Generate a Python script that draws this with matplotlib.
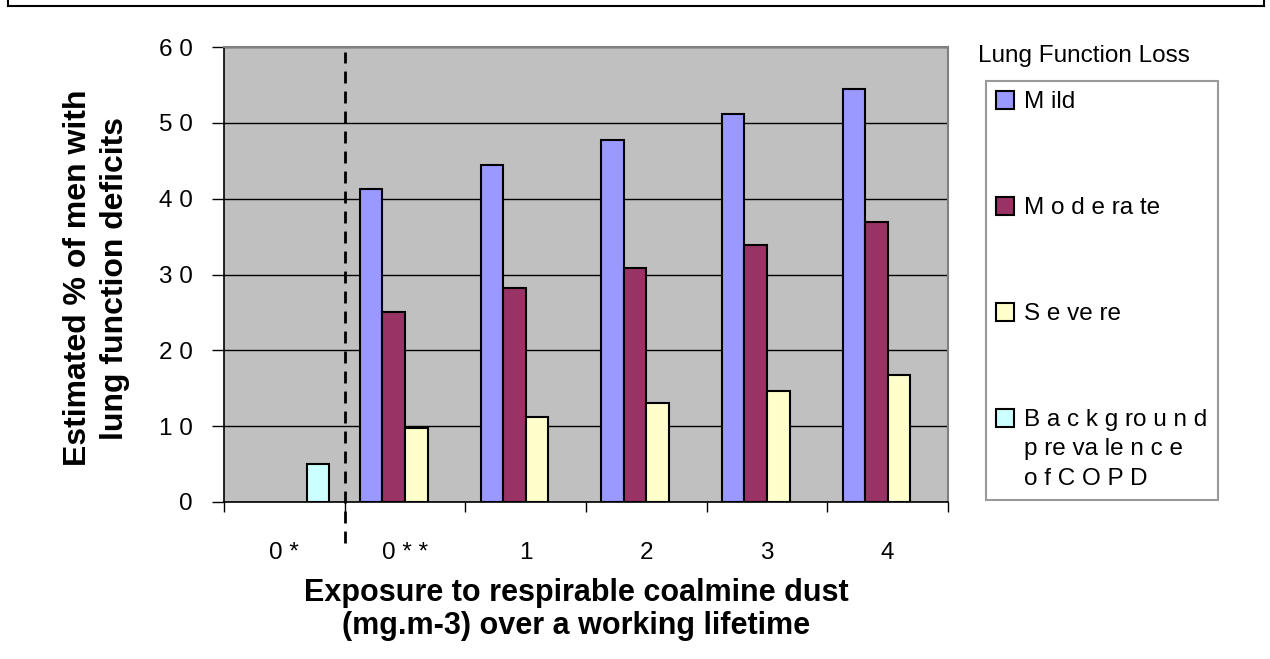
# Lung function loss vs. lifetime coalmine dust exposure (grouped bars).

import numpy as np
import matplotlib.pyplot as plt
from matplotlib.patches import Patch
from matplotlib.lines import Line2D

# Data
categories = ["0 *", "0 * *", "1", "2", "3", "4"]
mild = [np.nan, 41.3, 44.5, 47.8, 51.1, 54.4]
moderate = [np.nan, 25.1, 28.2, 30.9, 33.9, 36.9]
severe = [np.nan, 9.8, 11.2, 13.1, 14.7, 16.7]
background = [5.0, np.nan, np.nan, np.nan, np.nan, np.nan]

series_labels = ["M ild", "M o d e ra te", "S e ve re",
                 "B a c k g ro u n d\np re va le n c e\no f C O P D"]
series_colors = ["#9999FF", "#993366", "#FFFFCC", "#CCFFFF"]
yticks = [0, 10, 20, 30, 40, 50, 60]
ytick_labels = ["0", "1 0", "2 0", "3 0", "4 0", "5 0", "6 0"]

arial = ["Liberation Sans", "DejaVu Sans"]


def main():
    fig = plt.figure(figsize=(12.7, 6.59), dpi=100)
    ax = fig.add_axes([224 / 1270, 1 - 502 / 659, 724 / 1270, 455 / 659])
    ax.set_facecolor("#C0C0C0")

    x = np.arange(len(categories))
    w = 0.187
    all_series = [mild, moderate, severe, background]
    for i, vals in enumerate(all_series):
        ax.bar(x + (i - 1.5) * w, vals, width=w, color=series_colors[i],
               edgecolor="black", linewidth=1.5, zorder=3)

    ax.set_xlim(-0.5, len(categories) - 0.5)
    ax.set_ylim(0, 60)

    # gridlines
    ax.set_yticks(yticks)
    ax.set_yticklabels(ytick_labels, family=arial, fontsize=17.5)
    ax.yaxis.grid(True, color="black", linewidth=1.0)
    ax.set_axisbelow(True)
    ax.tick_params(axis="y", direction="out", length=8.6, width=1,
                   pad=14, color="black")

    # category labels centred, ticks on the boundaries
    ax.set_xticks(x)
    ax.set_xticklabels(categories, family=arial, fontsize=17.5)
    ax.set_xticks(np.arange(-0.5, len(categories)), minor=True)
    ax.tick_params(axis="x", which="major", length=0, pad=29)
    ax.tick_params(axis="x", which="minor", direction="out", length=7,
                   width=1, color="black")

    for side in ["left", "bottom"]:
        ax.spines[side].set_color("black")
        ax.spines[side].set_linewidth(1.2)
    for side in ["top", "right"]:
        ax.spines[side].set_color("#808080")
        ax.spines[side].set_linewidth(1.5)

    # dashed separator between 0* and 0**
    ax.axvline(0.5, ymin=-0.09, ymax=0.99, color="black",
               linestyle=(0, (4.3, 2.9)), linewidth=2, clip_on=False, zorder=4)

    ax.set_ylabel("Estimated % of men with\nlung function deficits",
                  family=arial, fontsize=23, fontweight="bold", linespacing=1.3)
    ax.yaxis.set_label_coords(-0.130, 0.492)
    ax.set_xlabel("Exposure to respirable coalmine dust\n(mg.m-3) over a working lifetime",
                  family=arial, fontsize=22, fontweight="bold", linespacing=1.15)
    ax.xaxis.set_label_coords(0.486, -0.167)

    # legend
    handles = [Patch(facecolor=c, edgecolor="black", linewidth=1.5)
               for c in series_colors]
    leg = ax.legend(handles, series_labels, loc="upper left",
                    bbox_to_anchor=(986 / 1270, 1 - 81 / 659),
                    bbox_transform=fig.transFigure, frameon=True,
                    fancybox=False, edgecolor="#808080", borderaxespad=0,
                    prop={"family": arial, "size": 17.5},
                    handlelength=0.75, handleheight=0.75, handletextpad=0.4,
                    borderpad=0.42, labelspacing=3.45)
    leg.get_frame().set_linewidth(1.5)
    for t in leg.get_texts():
        t.set_linespacing(1.45)
    # put each square level with the first line of its label
    for col in leg._legend_handle_box.get_children():
        for row in col.get_children():
            row.align = "top"
    fig.text(978 / 1270, 1 - 56 / 659, "Lung Function Loss", family=arial,
             fontsize=17.5, va="center", ha="left")

    # outer border
    for xs, ys in [([8, 8], [0, 6]), ([8, 1264], [6, 6]), ([1264, 1264], [6, 0])]:
        fig.add_artist(Line2D([v / 1270 for v in xs], [1 - v / 659 for v in ys],
                              color="black", linewidth=1.5,
                              transform=fig.transFigure))

    fig.savefig("out.png", dpi=100)


if __name__ == "__main__":
    main()
